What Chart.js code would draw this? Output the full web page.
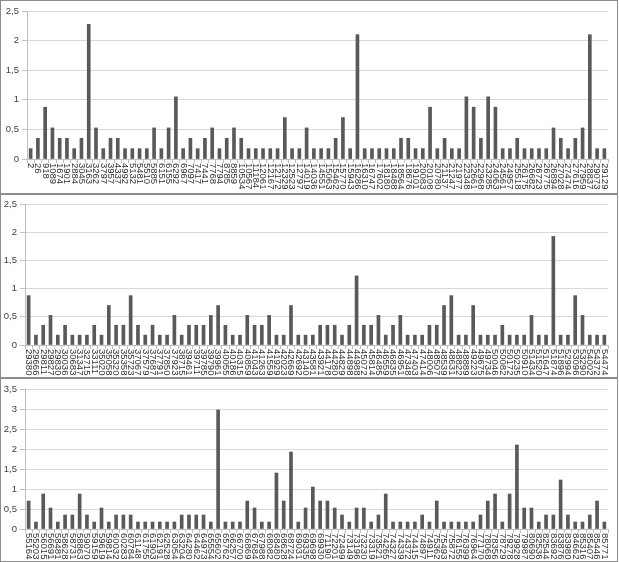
<!DOCTYPE html>
<html>
<head>
<meta charset="utf-8">
<script src="https://cdn.jsdelivr.net/npm/chart.js@4.4.0/dist/chart.umd.min.js"></script>
<style>
  body { margin: 0; background: #fff; }
  .panel { position: absolute; left: 0; width: 618px; box-sizing: border-box; border: 1px solid #8c8c8c; background: #fff; }
  canvas { display: block; }
</style>
</head>
<body>
<div class="panel" style="top:0;height:194px"><canvas id="c1" width="616" height="192"></canvas></div>
<div class="panel" style="top:194px;height:184px"><canvas id="c2" width="616" height="182"></canvas></div>
<div class="panel" style="top:378px;height:184px"><canvas id="c3" width="616" height="182"></canvas></div>
<script>
// chart 1
let labels1 = ["2","26","918","1089","1674","1901","2884","3045","3163","3262","3797","3957","4337","4992","5132","5481","5510","5885","6151","6155","6292","6967","7097","7417","7441",
  "7768","7794","8785","8859","10534","10567","11184","12061","12167","12172","12329","12523","12797","14019","14036","14551","15063","15462","15770","15943","16286","16310","16747","17602","18180","18488","18564","18676",
  "19101","20083","20108","20780","21137","21247","21977","22348","22661","22968","23285","24063","24561","24957","25518","26175","26682","26723","26775","26894","27028","27474","27616","27959","28837","29073","29129"];
let values1 = [0.175,0.35,0.875,0.525,0.35,0.35,0.175,0.35,2.275,0.525,0.175,0.35,0.35,0.175,0.175,0.175,0.175,0.525,0.175,0.525,1.05,0.175,0.35,0.175,0.35,
  0.525,0.175,0.35,0.525,0.35,0.175,0.175,0.175,0.175,0.175,0.7,0.175,0.175,0.525,0.175,0.175,0.175,0.35,0.7,0.175,2.1,0.175,0.175,0.175,0.175,0.175,0.35,0.35,
  0.175,0.175,0.875,0.175,0.35,0.175,0.175,1.05,0.875,0.35,1.05,0.875,0.175,0.175,0.35,0.175,0.175,0.175,0.175,0.525,0.35,0.175,0.35,0.525,2.1,0.175,0.175];

// chart 2
let labels2 = ["29380","29666","29811","29827","29830","30036","30683","31347","32715","33111","35020","35058","35320","35358","35723","37067","37579","37687","37791","37850","37923","38715","39461","39711","39785",
  "39790","39961","40055","40186","40315","40859","41043","41263","41559","41929","42023","42669","42692","43140","43581","43921","44178","44280","44829","44898","44988","45072","45814","46485","46559","46835","46951","47348",
  "47403","47414","48006","48507","48539","48631","48822","48889","49223","49675","49734","50046","50082","50172","50235","50910","51434","51520","51647","51874","51896","52994","53096","53290","54002","54372","54474"];
let values2 = [0.875,0.175,0.35,0.525,0.175,0.35,0.175,0.175,0.175,0.35,0.175,0.7,0.35,0.35,0.875,0.35,0.175,0.35,0.175,0.175,0.525,0.175,0.35,0.35,0.35,
  0.525,0.7,0.35,0.175,0.175,0.525,0.35,0.35,0.525,0.175,0.175,0.7,0.175,0.175,0.175,0.35,0.35,0.35,0.175,0.35,1.225,0.35,0.35,0.525,0.175,0.35,0.525,0.175,
  0.175,0.175,0.35,0.35,0.7,0.875,0.175,0.175,0.7,0.175,0.175,0.175,0.35,0.175,0.175,0.175,0.525,0.175,0.175,1.925,0.175,0.175,0.875,0.525,0.175,0.175,0.175];

// chart 3
let labels3 = ["55164","55203","56015","56691","58481","58628","58731","58863","59070","59159","59619","59814","60032","60283","60784","61148","61755","61903","62191","62528","63054","63204","64280","64462","64973",
  "65554","65602","65762","66257","66700","66869","67684","67988","68082","68480","68628","68724","69031","69335","69698","69930","71190","72201","72499","73149","73196","73230","73319","73521","74265","74327",
  "74339","74372","74415","74897","74911","75362","75493","75872","76155","76399","76964","77170","78068","78356","78729","79278","79928","79987","80690","82536","82544","83692","83876","83980","84662","85316","85407","85446","85771"];
let values3 = [0.7,0.175,0.875,0.525,0.175,0.35,0.35,0.875,0.35,0.175,0.525,0.175,0.35,0.35,0.35,0.175,0.175,0.175,0.175,0.175,0.175,0.35,0.35,0.35,0.35,
  0.175,2.975,0.175,0.175,0.175,0.7,0.525,0.175,0.175,1.4,0.7,1.925,0.175,0.525,1.05,0.7,0.7,0.525,0.35,0.175,0.525,0.525,0.175,0.35,0.875,0.175,
  0.175,0.175,0.175,0.35,0.175,0.7,0.175,0.175,0.175,0.175,0.175,0.35,0.7,0.875,0.175,0.875,2.1,0.525,0.525,0.175,0.35,0.35,1.225,0.35,0.175,0.175,0.35,0.7,0.175];

let yMax1 = 2.5, yMax2 = 2.5, yMax3 = 3.5;

// x labels read top to bottom, so they are drawn here instead of by the axis
const rotatedLabels = {
  id: "rotatedLabels",
  afterDraw(chart) {
    const xs = chart.scales.x;
    const ctx = chart.ctx;
    ctx.save();
    ctx.font = '9.5px "Liberation Sans"';
    ctx.fillStyle = "#333333";
    ctx.textAlign = "left";
    ctx.textBaseline = "middle";
    chart.data.labels.forEach((lab, i) => {
      ctx.save();
      ctx.translate(xs.getPixelForTick(i), xs.top + 4);
      ctx.rotate(Math.PI / 2);
      ctx.fillText(lab, 0, 0);
      ctx.restore();
    });
    ctx.restore();
  }
};

function makeChart(id, labels, values, yMax, left, top, xHeight) {
  const ctx = document.getElementById(id).getContext("2d");
  return new Chart(ctx, {
    type: "bar",
    data: {
      labels: labels,
      datasets: [{ data: values, backgroundColor: "#595959", barThickness: 3 }]
    },
    options: {
      responsive: false,
      animation: false,
      layout: { padding: { top: top, right: 9, left: 0, bottom: 0 } },
      plugins: { legend: { display: false }, tooltip: { enabled: false } },
      scales: {
        x: {
          ticks: { display: false },
          grid: { display: true, drawOnChartArea: false, tickLength: 4, color: "#bfbfbf", offset: true },
          border: { color: "#bfbfbf" },
          afterFit: (s) => { s.height = xHeight; }
        },
        y: {
          min: 0,
          max: yMax,
          ticks: {
            stepSize: 0.5,
            color: "#404040",
            padding: 3,
            font: { family: "Liberation Sans", size: 9.5 },
            callback: (v) => String(v).replace(".", ",")
          },
          grid: { color: "#d9d9d9", tickLength: 5, tickColor: "#bfbfbf" },
          border: { color: "#bfbfbf" },
          afterFit: (s) => { s.width = left; }
        }
      }
    },
    plugins: [rotatedLabels]
  });
}

makeChart("c1", labels1, values1, yMax1, 26, 10, 34);
makeChart("c2", labels2, values2, yMax2, 24, 9, 32);
makeChart("c3", labels3, values3, yMax3, 24, 10, 32);
</script>
</body>
</html>
